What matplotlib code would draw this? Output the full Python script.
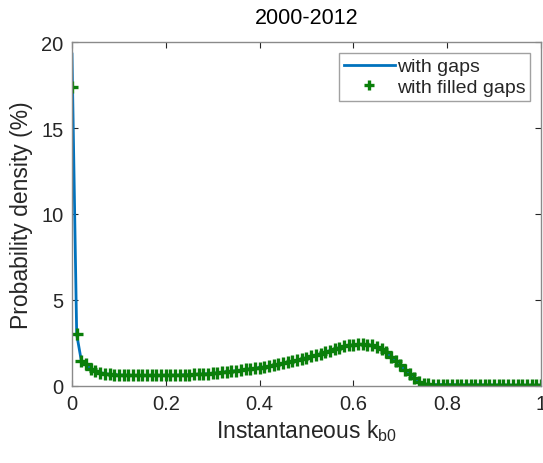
import numpy as np
import matplotlib
matplotlib.use("Agg")
import matplotlib.pyplot as plt

plt.rcParams["font.family"] = ["Liberation Sans", "DejaVu Sans"]
plt.rcParams["mathtext.default"] = "regular"

# bin centres of k_b0 (step 0.01)
k_bins = np.round(np.arange(101) * 0.01, 2)

# probability density (%)
pdf_filled = [
    17.4, 3.0, 1.45, 1.25, 1.0, 0.87, 0.78, 0.72, 0.68, 0.66,
    0.64, 0.63, 0.63, 0.62, 0.62, 0.62, 0.62, 0.62, 0.62, 0.62,
    0.63, 0.63, 0.63, 0.64, 0.65, 0.66, 0.67, 0.69, 0.70, 0.72,
    0.74, 0.77, 0.80, 0.83, 0.86, 0.89, 0.92, 0.96, 1.00, 1.03,
    1.07, 1.11, 1.15, 1.20, 1.25, 1.31, 1.37, 1.43, 1.50, 1.57,
    1.65, 1.72, 1.80, 1.88, 1.97, 2.06, 2.15, 2.23, 2.30, 2.36,
    2.40, 2.42, 2.42, 2.40, 2.36, 2.28, 2.15, 1.95, 1.70, 1.45,
    1.20, 0.95, 0.70, 0.45, 0.22, 0.12, 0.09, 0.08, 0.08, 0.08,
    0.08, 0.08, 0.07, 0.07, 0.07, 0.07, 0.07, 0.07, 0.06, 0.06,
    0.06, 0.06, 0.06, 0.06, 0.05, 0.05, 0.05, 0.05, 0.05, 0.05,
    0.05,
]
pdf_gaps = [19.3] + pdf_filled[1:]

axis_grey = "#8a8a8a"
text_grey = "#262626"

fig = plt.figure(figsize=(5.43, 4.64), dpi=100)
ax = fig.add_axes([0.1326, 0.166, 0.8637, 0.7413])

ax.plot(k_bins, pdf_gaps, color="#0072BD", lw=2.0, label="with gaps")
ax.plot(k_bins, pdf_filled, ls="none", marker="+", color="#0a7f0a",
        ms=9, mew=2.4, label="with filled gaps")

ax.set_xlim(0, 1)
ax.set_ylim(0, 20)
ax.set_xticks([0, 0.2, 0.4, 0.6, 0.8, 1])
ax.set_xticklabels(["0", "0.2", "0.4", "0.6", "0.8", "1"])
ax.set_yticks([0, 5, 10, 15, 20])

for sp in ax.spines.values():
    sp.set_color(axis_grey)
    sp.set_linewidth(1.0)
ax.tick_params(direction="in", length=4, width=0.8, color=text_grey,
               labelsize=14.5, labelcolor=text_grey, top=True, right=True, pad=6)

ax.set_title("2000-2012", fontsize=15.5, color="black", pad=14)
ax.set_xlabel("Instantaneous k$_{b0}$", fontsize=16.5, color=text_grey, labelpad=3)
ax.set_ylabel("Probability density (%)", fontsize=16.5, color=text_grey, labelpad=6)

leg = ax.legend(loc="upper right", bbox_to_anchor=(0.977, 0.968), fontsize=14,
                frameon=True, fancybox=False, handlelength=2.6, handletextpad=0.1,
                borderpad=0.25, labelspacing=0.15, borderaxespad=0)
leg.get_frame().set_edgecolor(axis_grey)
leg.get_frame().set_linewidth(1.0)
for t in leg.get_texts():
    t.set_color(text_grey)
leg.legend_handles[1].set_markersize(7)

fig.savefig("out.png", dpi=100)
